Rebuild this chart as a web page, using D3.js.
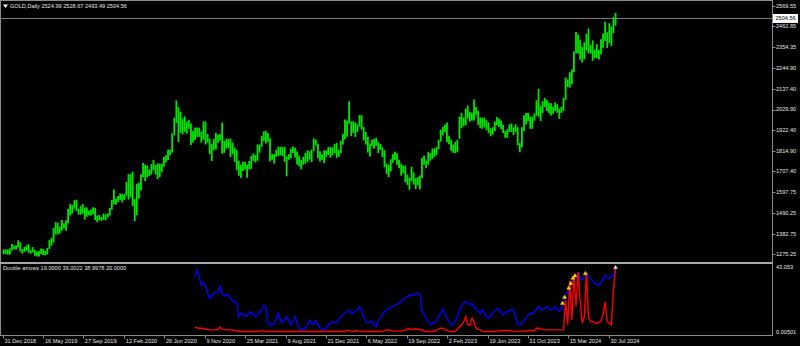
<!DOCTYPE html>
<html>
<head>
<meta charset="utf-8">
<script src="https://cdn.jsdelivr.net/npm/d3@7"></script>
<style>
  html, body { margin: 0; padding: 0; background: #000; }
  svg { display: block; font-family: "Liberation Sans", Arial, sans-serif; }
</style>
</head>
<body>
<svg id="chart" width="800" height="346"></svg>
<script>
"use strict";

// ── data ──────────────────────────────────────────────────────────────────────
const SYMBOL_TITLE    = "GOLD,Daily  2524.99 2528.67 2493.49 2504.56";
const INDICATOR_TITLE = "Double arrows 19.0000 39.0022 38.9978 20.0000";
const FIRST_WEEK      = "2018-12-31";
const BID             = 2504.56;

const priceTicks = [2569.55, 2462.85, 2354.35, 2244.90, 2137.40, 2029.90, 1922.40,
                    1814.90, 1707.40, 1597.75, 1490.25, 1382.75, 1275.25];
const indTickVals   = [43.053, 0.00501];
const indTickLabels = ["43.053", "0.00501"];

const dateTicks  = ["2018-12-31", "2019-05-16", "2019-09-27", "2020-02-12", "2020-06-26",
                    "2020-11-09", "2021-03-25", "2021-08-09", "2021-12-21", "2022-05-06",
                    "2022-09-19", "2023-02-02", "2023-06-19", "2023-10-31", "2024-03-15",
                    "2024-07-30"];
const dateLabels = ["31 Dec 2018", "16 May 2019", "27 Sep 2019", "12 Feb 2020", "26 Jun 2020",
                    "9 Nov 2020", "25 Mar 2021", "9 Aug 2021", "21 Dec 2021", "6 May 2022",
                    "19 Sep 2022", "2 Feb 2023", "19 Jun 2023", "31 Oct 2023", "15 Mar 2024",
                    "30 Jul 2024"];

// weekly low / high of the daily bars, one per week from FIRST_WEEK
const weekLow = [
  1278,1280,1276,1276,1297,1304,1302,1315,1292,1281,
  1290,1296,1286,1281,1288,1270,1266,1267,1279,1274,
  1273,1276,1306,1322,1339,1382,1381,1386,1401,1412,
  1400,1440,1480,1490,1516,1503,1485,1484,1490,1459,
  1474,1480,1480,1486,1456,1445,1456,1452,1457,1455,
  1470,1479,1510,1540,1536,1551,1561,1548,1561,1583,
  1563,1575,1529,1451,1482,1568,1610,1680,1660,1680,
  1685,1694,1717,1693,1670,1680,1705,1735,1757,1770,
  1795,1808,1898,1962,1863,1911,1903,1916,1906,1932,
  1848,1860,1873,1890,1890,1860,1875,1850,1860,1800,
  1764,1820,1825,1859,1871,1802,1807,1830,1830,1785,
  1800,1760,1717,1687,1676,1712,1720,1677,1720,1723,
  1764,1756,1765,1808,1838,1868,1855,1865,1761,1770,
  1750,1786,1790,1794,1790,1760,1684,1770,1778,1806,
  1782,1746,1737,1721,1745,1750,1760,1771,1758,1815,
  1845,1778,1762,1770,1753,1785,1795,1782,1795,1805,
  1780,1786,1806,1850,1878,1890,1960,1895,1910,1890,
  1915,1945,1928,1872,1850,1808,1787,1842,1828,1843,
  1805,1822,1785,1732,1697,1680,1710,1755,1770,1745,
  1727,1688,1700,1653,1640,1614,1660,1642,1618,1638,
  1616,1675,1745,1728,1745,1765,1775,1785,1795,1825,
  1865,1897,1915,1862,1852,1818,1807,1805,1810,1880,
  1935,1945,1950,1985,1970,1975,1975,2005,1952,1935,
  1932,1940,1925,1910,1893,1902,1920,1950,1942,1930,
  1910,1885,1885,1915,1915,1900,1915,1846,1810,1835,
  1920,1955,1972,1932,1932,1975,2000,1995,1973,2015,
  2045,2025,2013,2001,2010,2025,2015,1984,2015,2025,
  2083,2150,2146,2165,2228,2325,2325,2292,2277,2295,
  2340,2325,2324,2286,2300,2300,2293,2319,2354,2390,
  2353,2380,2364,2430,2470
];
const weekHigh = [
  1298,1298,1298,1304,1326,1319,1318,1346,1334,1300,
  1311,1320,1325,1296,1310,1296,1288,1290,1303,1300,
  1290,1306,1348,1358,1410,1440,1437,1418,1452,1434,
  1450,1510,1535,1530,1555,1557,1510,1524,1535,1517,
  1517,1500,1506,1518,1515,1475,1478,1467,1485,1480,
  1486,1514,1556,1611,1563,1577,1590,1588,1586,1650,
  1690,1692,1703,1560,1640,1645,1690,1748,1740,1735,
  1715,1743,1765,1739,1746,1745,1745,1780,1789,1818,
  1818,1903,1983,2075,2040,2016,1981,1992,1966,1973,
  1955,1917,1933,1933,1933,1912,1965,1965,1900,1875,
  1848,1875,1906,1896,1900,1960,1865,1875,1875,1875,
  1855,1830,1816,1760,1740,1755,1755,1740,1759,1785,
  1798,1790,1845,1845,1890,1913,1916,1904,1878,1795,
  1795,1818,1834,1833,1832,1833,1782,1795,1823,1834,
  1828,1809,1787,1765,1781,1801,1814,1810,1818,1877,
  1870,1849,1810,1793,1815,1814,1831,1832,1830,1848,
  1853,1816,1865,1900,1975,1970,2070,1965,1966,1960,
  1950,1998,1998,1936,1910,1885,1850,1870,1875,1880,
  1857,1848,1830,1815,1745,1740,1768,1795,1807,1800,
  1765,1745,1735,1735,1688,1672,1729,1700,1670,1675,
  1684,1775,1787,1760,1805,1800,1824,1825,1833,1870,
  1922,1937,1949,1960,1890,1870,1845,1858,1870,1990,
  2009,1985,2032,2048,2015,2010,2080,2040,2020,1985,
  1985,1985,1972,1960,1930,1935,1965,1988,1980,1970,
  1948,1915,1925,1950,1955,1935,1950,1935,1852,1935,
  1997,2009,2010,1990,1990,2007,2075,2135,2048,2071,
  2088,2078,2062,2060,2042,2065,2055,2032,2041,2088,
  2195,2185,2222,2236,2330,2432,2418,2390,2353,2378,
  2422,2450,2365,2388,2340,2368,2340,2393,2424,2484,
  2430,2477,2460,2510,2531
];

// indicator buffers, weekly, starting at week IND_FIRST_WEEK
const IND_FIRST_WEEK = 92;
const blueLine = [
  37,40.8,36,31,32.3,30,26,22,24,25.8,
  26,26.4,30.4,25,23.8,25,24.5,22,20.5,20,
  19.3,10,12.5,12,10.5,11,13,13.5,11,10.3,
  11.5,13.5,14.7,17.5,16,6,4.9,5.5,5,9,
  12.5,8,6.2,8.5,10.3,8,4.9,7.5,10.3,6,
  2.5,1.6,2,2.9,5.5,8.2,6,4.9,7.7,5,
  2.9,2,1.6,3,4.9,6,7.1,6.5,6.2,8,
  10.3,11.5,12.7,13.5,14.7,13,12.7,14,14.7,16.9,
  14,10.3,7,6.2,7,7.1,5,3.8,8,9.3,
  11.5,13.5,14.7,15.5,16,16.9,17.5,18.5,19,20,
  21.5,23,23.4,24,24.5,24.5,25,25.6,25,14,
  11.4,9.3,7,4.9,5.5,6,8,10.3,12.5,15.2,
  12,9,7.1,5,4.9,7.5,10.3,14,17,19.1,
  20,19.1,18,19.1,17,14.7,14.7,12,14.7,12.5,
  10,9.3,11,13.6,14,15.2,15,13,11.4,12.5,
  13.6,14.5,14.7,14.7,10,4.9,5,6,8,9.3,
  11.4,12.5,12,13.6,15,16.9,15,14.7,16,16.9,
  15.5,14.7,15.5,16.9,15,13.6,15.5,19.1,24,27,
  29.9,33,36,37.6,38.7,35,34.3,36.5,38.7,37,
  35.4,33.5,32.1,31.5,31,33,34.3,37.6,36.5,35.4,
  36.5,37.6,42
];
const redLine = [
  3.4,3.0,2.7,2.7,2.5,2.2,1.8,1.6,1.6,1.6,
  1.6,2.0,3.5,2.2,1.8,1.6,1.6,1.6,1.4,1.2,
  1.0,0.5,0.5,0.5,0.5,0.5,0.5,0.5,0.5,0.5,
  0.5,0.5,1.2,1.0,0.5,0.5,0.5,0.5,0.5,0.5,
  0.5,0.5,0.5,0.5,0.5,0.5,0.5,0.5,0.5,0.5,
  0.5,0.5,0.5,0.5,0.5,0.5,0.5,0.5,0.5,0.5,
  0.5,0.5,0.5,0.5,0.5,0.5,0.5,0.5,0.5,0.5,
  0.5,0.5,0.5,1.2,1.2,0.8,0.5,1.0,1.2,0.8,
  0.5,0.5,0.5,0.5,0.5,0.5,0.5,0.5,0.5,0.5,
  0.5,1.2,1.6,1.6,1.2,0.8,0.8,0.8,0.8,0.8,
  1.2,1.6,2.0,2.3,1.8,2.0,2.3,1.8,2.0,1.5,
  1.0,0.5,0.5,0.5,0.5,0.8,1.5,2.2,2.7,2.7,
  2.0,1.2,0.8,0.5,0.5,0.8,2.0,3.5,4.9,6.5,
  10.3,4.9,4.5,9.3,7,2.7,2.1,1.6,0.8,0.6,
  0.5,0.5,0.5,0.5,0.5,0.8,0.8,1.0,1.2,1.2,
  1.2,1.0,0.8,0.8,0.6,0.6,0.6,0.6,0.8,1.0,
  1.2,1.2,1.0,1.2,2.7,2.7,2.2,2.0,1.6,1.6,
  1.6,1.6,1.6,1.6,1.6,1.6,1.6,1.6,21,5,
  34,8,37.6,17,39.5,21,6,10,38.7,10.3,
  7.1,7,6.5,6,6.5,7.1,12,20,7.1,6,
  4.9,28,42.5
];

// signal arrows drawn by the indicator
const yellowWeeks = [269, 270, 272, 273, 274, 275, 280];
const yellowVals  = [19, 23, 29, 32, 35.5, 37, 38.5];
const whiteWeeks  = [294];
const whiteVals   = [42.5];

// ── layout ────────────────────────────────────────────────────────────────────
const PLOT_R   = 772.5;
const MAIN_BOT = 262;
const SUB_BOT  = 335.5;
const FRAME    = "#8c8c8c";
const TEXT     = "#e4e4e4";
const FONT_PX  = 5.6;

const parseDay = d3.utcParse("%Y-%m-%d");
const week0 = parseDay(FIRST_WEEK);
const weekDate = i => d3.utcDay.offset(week0, 7 * i + 2);

const x = d3.scaleUtc()
  .domain([parseDay(dateTicks[0]), parseDay(dateTicks[dateTicks.length - 1])])
  .range([3, 609]);
const y = d3.scaleLinear().domain([1235.1, 2600.8]).range([MAIN_BOT, 0]);
const ySub = d3.scaleLinear().domain([0.00501, 43.053]).range([332.3, 266.7]);

const svg = d3.select("#chart");
svg.append("rect").attr("width", 800).attr("height", 346).attr("fill", "#000");

// ── frame ─────────────────────────────────────────────────────────────────────
svg.append("rect")
  .attr("x", 0.5).attr("y", 0.5).attr("width", PLOT_R - 0.5).attr("height", SUB_BOT - 0.5)
  .attr("fill", "none").attr("stroke", FRAME);
svg.append("rect")
  .attr("x", 0).attr("y", MAIN_BOT).attr("width", PLOT_R).attr("height", 2)
  .attr("fill", "#a8a8a8");

// ── price bars ────────────────────────────────────────────────────────────────
svg.append("g").selectAll("line").data(weekLow).join("line")
  .attr("x1", (d, i) => x(weekDate(i)))
  .attr("x2", (d, i) => x(weekDate(i)))
  .attr("y1", d => y(d) + 0.5)
  .attr("y2", (d, i) => y(weekHigh[i]) - 0.5)
  .attr("stroke", "#00e800")
  .attr("stroke-width", 1.8);

// bid line
svg.append("line")
  .attr("x1", 1).attr("x2", PLOT_R)
  .attr("y1", Math.round(y(BID)) + 0.5).attr("y2", Math.round(y(BID)) + 0.5)
  .attr("stroke", "#7a7a7a").attr("stroke-width", 1);

// ── price axis ────────────────────────────────────────────────────────────────
const pAxis = svg.append("g");
pAxis.selectAll("line").data(priceTicks).join("line")
  .attr("x1", PLOT_R).attr("x2", PLOT_R + 3)
  .attr("y1", d => Math.round(y(d)) + 0.5).attr("y2", d => Math.round(y(d)) + 0.5)
  .attr("stroke", FRAME);
pAxis.selectAll("text").data(priceTicks).join("text")
  .attr("x", PLOT_R + 3.5).attr("y", d => y(d))
  .attr("dy", "0.35em")
  .attr("font-size", FONT_PX).attr("fill", TEXT)
  .text(d => d.toFixed(2));

svg.append("rect")
  .attr("x", PLOT_R + 0.5).attr("y", y(BID) - 4.5).attr("width", 25).attr("height", 9)
  .attr("fill", "#fff");
svg.append("text")
  .attr("x", PLOT_R + 3).attr("y", y(BID)).attr("dy", "0.35em")
  .attr("font-size", FONT_PX).attr("fill", "#000")
  .text(BID.toFixed(2));

// ── titles ────────────────────────────────────────────────────────────────────
svg.append("path").attr("d", "M3,4.5 L8,4.5 L5.5,8 Z").attr("fill", "#fff");
svg.append("text")
  .attr("x", 10).attr("y", 6.5).attr("dy", "0.35em")
  .attr("font-size", FONT_PX).attr("fill", TEXT)
  .text(SYMBOL_TITLE);
svg.append("text")
  .attr("x", 3).attr("y", 268.5).attr("dy", "0.35em")
  .attr("font-size", FONT_PX).attr("fill", TEXT)
  .text(INDICATOR_TITLE);

// ── indicator window ──────────────────────────────────────────────────────────
const sub = svg.append("g");
const indX = (d, i) => x(weekDate(i + IND_FIRST_WEEK));
const line = d3.line().x(indX).y(d => ySub(d));

sub.append("path").datum(blueLine)
  .attr("fill", "none").attr("stroke", "#0000ff").attr("stroke-width", 1.4)
  .attr("d", line);
sub.append("path").datum(redLine)
  .attr("fill", "none").attr("stroke", "#ff0000").attr("stroke-width", 1.4)
  .attr("d", line);

const arrow = d3.symbol(d3.symbolTriangle).size(7);
sub.selectAll("path.sig-y").data(yellowWeeks).join("path")
  .attr("class", "sig-y")
  .attr("transform", (w, i) => `translate(${x(weekDate(w)) - 1},${ySub(yellowVals[i])})`)
  .attr("d", arrow).attr("fill", "#ffdc00").attr("stroke", "#ffa200").attr("stroke-width", 0.5);
sub.selectAll("path.sig-w").data(whiteWeeks).join("path")
  .attr("class", "sig-w")
  .attr("transform", (w, i) => `translate(${x(weekDate(w))},${ySub(whiteVals[i])})`)
  .attr("d", arrow).attr("fill", "#f4f4f4").attr("stroke", "#9a9a9a").attr("stroke-width", 0.5);

const iAxis = svg.append("g");
iAxis.selectAll("text").data(indTickVals).join("text")
  .attr("x", PLOT_R + 3.5).attr("y", d => ySub(d)).attr("dy", "0.35em")
  .attr("font-size", FONT_PX).attr("fill", TEXT)
  .text((d, i) => indTickLabels[i]);

// ── time axis ─────────────────────────────────────────────────────────────────
const tAxis = svg.append("g");
tAxis.selectAll("line").data(dateTicks).join("line")
  .attr("x1", d => Math.round(x(parseDay(d))) + 0.5)
  .attr("x2", d => Math.round(x(parseDay(d))) + 0.5)
  .attr("y1", SUB_BOT).attr("y2", SUB_BOT + 3)
  .attr("stroke", FRAME);
tAxis.selectAll("text").data(dateTicks).join("text")
  .attr("x", d => x(parseDay(d)) + 1.5)
  .attr("y", 341).attr("dy", "0.35em")
  .attr("font-size", FONT_PX).attr("fill", TEXT)
  .text((d, i) => dateLabels[i]);
</script>
</body>
</html>
